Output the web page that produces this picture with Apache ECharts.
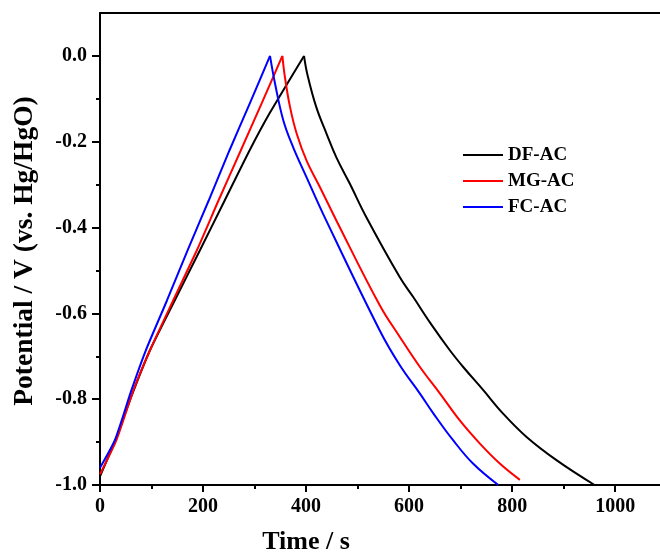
<!DOCTYPE html>
<html>
<head>
<meta charset="utf-8">
<script src="https://cdn.jsdelivr.net/npm/echarts@6/dist/echarts.min.js"></script>
<style>
html,body{margin:0;padding:0;background:#fff;overflow:hidden;}
#chart{width:660px;height:555px;}
</style>
</head>
<body>
<div id="chart"></div>
<script>
// ---- data ----
const seriesNames = ['DF-AC', 'MG-AC', 'FC-AC'];
const dfTime = [0, 30, 62, 97, 145, 194, 242, 290, 330, 396,
  402.5, 420, 440, 459, 485, 517, 582, 608, 642, 679, 705, 744, 782, 828, 886, 960];
const dfPot  = [-0.98, -0.895, -0.79, -0.686, -0.57, -0.453, -0.337, -0.221, -0.132, 0.0,
  -0.043, -0.12, -0.182, -0.237, -0.298, -0.376, -0.516, -0.562, -0.624, -0.686, -0.725, -0.779, -0.833, -0.888, -0.942, -1.0];
const mgTime = [0, 32, 65, 97, 142, 188, 230, 273, 314, 354,
  359, 369, 382, 401, 427, 459, 543, 582, 621, 660, 698, 737, 776, 815];
const mgPot  = [-0.975, -0.895, -0.779, -0.686, -0.57, -0.453, -0.337, -0.221, -0.11, 0.0,
  -0.05, -0.12, -0.182, -0.244, -0.306, -0.384, -0.581, -0.655, -0.725, -0.787, -0.849, -0.903, -0.95, -0.988];
const fcTime = [0, 29, 61, 89, 130, 170, 211, 251, 291, 330,
  340, 356, 375, 401, 433, 543, 582, 621, 647, 685, 724, 773];
const fcPot  = [-0.96, -0.895, -0.779, -0.686, -0.57, -0.453, -0.337, -0.221, -0.11, 0.0,
  -0.066, -0.151, -0.213, -0.283, -0.368, -0.64, -0.721, -0.787, -0.833, -0.895, -0.95, -1.0];
const xMajorTicks = [0, 200, 400, 600, 800, 1000];
const xMinorTicks = [100, 300, 500, 700, 900];
const yMajorTicks = [-1.0, -0.8, -0.6, -0.4, -0.2, 0.0];
const yMinorTicks = [-0.9, -0.7, -0.5, -0.3, -0.1];
const xTitle = 'Time / s';
const yTitle = 'Potential / V (vs. Hg/HgO)';

const colors = ['#000000', '#ff0000', '#0000ff'];
const FONT = '"Liberation Serif", "Times New Roman", serif';

function zip(a, b) { return a.map((v, i) => [v, b[i]]); }
const allTimes = [dfTime, mgTime, fcTime];
const allPots = [dfPot, mgPot, fcPot];

const series = [];
seriesNames.forEach((name, i) => {
  const pts = zip(allTimes[i], allPots[i]);
  const pk = allPots[i].indexOf(Math.max(...allPots[i]));
  [[pts.slice(0, pk + 1), 0.2], [pts.slice(pk), 0.4]].forEach(([seg, sm]) => {
    series.push({
      name: name,
      type: 'line',
      xAxisIndex: 0, yAxisIndex: 0,
      data: seg,
      symbol: 'none',
      showSymbol: false,
      smooth: sm,
      clip: true,
      color: colors[i],
      lineStyle: { color: colors[i], width: 2 }
    });
  });
});

const axisLineStyle = { color: '#000', width: 2 };
const tickStyle = { color: '#000', width: 2 };
const labelFont = { color: '#000', fontFamily: FONT, fontWeight: 'bold', fontSize: 20 };
const X_MAX_VISIBLE = 1087;

const chart = echarts.init(document.getElementById('chart'), null, { renderer: 'canvas' });
chart.setOption({
  animation: false,
  backgroundColor: '#fff',
  grid: { left: 100, top: 13, right: 0, bottom: 70, show: false },
  legend: {
    orient: 'vertical',
    left: 458, top: 140,
    itemWidth: 40, itemHeight: 2, itemGap: 6,
    icon: 'rect',
    data: seriesNames,
    textStyle: { fontFamily: FONT, fontWeight: 'bold', fontSize: 19, color: '#000', lineHeight: 20 }
  },
  xAxis: [{
    type: 'value', min: 0, max: X_MAX_VISIBLE, position: 'bottom',
    axisLine: { show: true, onZero: false, lineStyle: axisLineStyle },
    axisTick: { show: true, customValues: xMajorTicks, length: 7, lineStyle: tickStyle },
    axisLabel: Object.assign({ customValues: xMajorTicks, margin: 12,
      formatter: v => xMajorTicks.indexOf(v) >= 0 ? String(v) : '' }, labelFont),
    splitLine: { show: false }
  }, {
    type: 'value', min: 0, max: X_MAX_VISIBLE, position: 'bottom',
    axisLine: { show: false, onZero: false },
    axisTick: { show: true, customValues: xMinorTicks, length: 4, lineStyle: tickStyle },
    axisLabel: { show: false },
    splitLine: { show: false }
  }, {
    type: 'value', min: 0, max: X_MAX_VISIBLE, position: 'top',
    axisLine: { show: true, onZero: false, lineStyle: axisLineStyle },
    axisTick: { show: false },
    axisLabel: { show: false },
    splitLine: { show: false }
  }],
  yAxis: [{
    type: 'value', min: -1.0, max: 0.1, position: 'left',
    axisLine: { show: true, onZero: false, lineStyle: axisLineStyle },
    axisTick: { show: true, customValues: yMajorTicks, length: 8, lineStyle: tickStyle },
    axisLabel: Object.assign({ customValues: yMajorTicks, margin: 13,
      formatter: v => yMajorTicks.some(t => Math.abs(t - v) < 1e-9) ? v.toFixed(1) : '' }, labelFont),
    splitLine: { show: false }
  }, {
    type: 'value', min: -1.0, max: 0.1, position: 'left',
    axisLine: { show: false, onZero: false },
    axisTick: { show: true, customValues: yMinorTicks, length: 4, lineStyle: tickStyle },
    axisLabel: { show: false },
    splitLine: { show: false }
  }],
  graphic: [{
    type: 'text', x: 306, y: 542,
    style: { text: xTitle, align: 'center', verticalAlign: 'middle', font: 'bold 26px ' + FONT, fill: '#000' }
  }, {
    type: 'text', x: 25, y: 251, rotation: Math.PI / 2,
    style: { text: yTitle, align: 'center', verticalAlign: 'middle', font: 'bold 27.5px ' + FONT, fill: '#000' }
  }],
  series: series
});
</script>
</body>
</html>
